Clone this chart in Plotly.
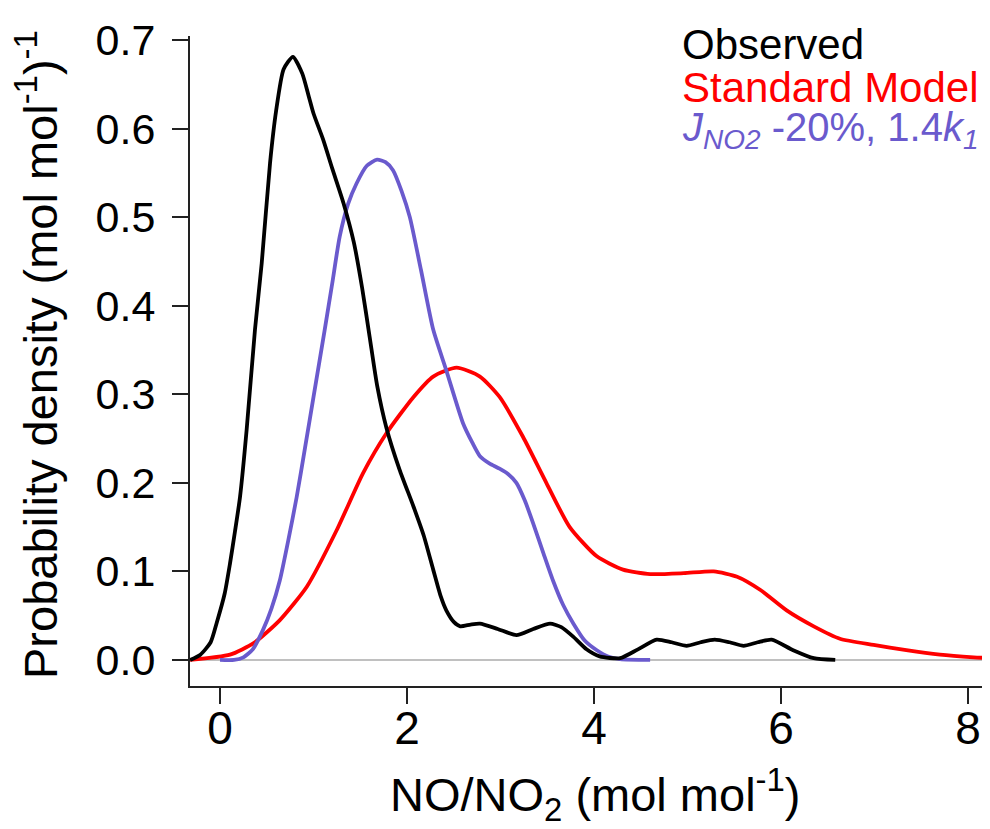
import plotly.graph_objects as go

# Observed
obs_x = [-0.32, -0.21, -0.1, -0.035, 0.05, 0.107, 0.16, 0.214, 0.285, 0.374, 0.446, 0.535, 0.6, 0.68,
         0.78, 0.88, 0.95, 1.0, 1.105, 1.2, 1.32, 1.43, 1.52, 1.6, 1.68, 1.78, 1.92, 2.07, 2.18, 2.28, 2.36,
         2.42, 2.5, 2.57, 2.68, 2.78, 2.97, 3.17, 3.35, 3.53, 3.65, 3.78, 3.92, 4.06, 4.28, 4.47, 4.67, 4.83,
         4.99, 5.14, 5.29, 5.45, 5.6, 5.75, 5.9, 6.13, 6.35, 6.58]
obs_y = [0.0, 0.006, 0.02, 0.042, 0.075, 0.109, 0.145, 0.184, 0.26, 0.373, 0.448, 0.561, 0.62, 0.667,
         0.681, 0.662, 0.636, 0.617, 0.587, 0.555, 0.516, 0.472, 0.42, 0.365, 0.31, 0.262, 0.215, 0.173, 0.14, 0.102, 0.072,
         0.056, 0.043, 0.038, 0.04, 0.041, 0.035, 0.028, 0.035, 0.041, 0.037, 0.026, 0.012, 0.004, 0.002, 0.012, 0.023, 0.02,
         0.016, 0.02, 0.023, 0.02, 0.016, 0.02, 0.023, 0.011, 0.002, 0.0]

# Standard Model
std_x = [-0.32, 0.107, 0.36, 0.64, 0.93, 1.25, 1.53, 1.78, 2.07, 2.28, 2.53, 2.78, 2.99, 3.24, 3.49, 3.74,
         4.03, 4.31, 4.6, 4.96, 5.28, 5.53, 5.78, 6.06, 6.35, 6.63, 6.99, 7.34, 7.7, 8.06, 8.24]
std_y = [0.0, 0.006, 0.019, 0.045, 0.083, 0.147, 0.211, 0.256, 0.297, 0.32, 0.33, 0.32, 0.297, 0.252, 0.2, 0.15,
         0.117, 0.102, 0.097, 0.098, 0.1, 0.094, 0.079, 0.056, 0.038, 0.024, 0.017, 0.011, 0.006, 0.003, 0.002]

# J_NO2 -20%, 1.4 k1
mod_x = [0.0, 0.15, 0.25, 0.35, 0.46, 0.55, 0.64, 0.73, 0.82, 0.91, 1.0, 1.12, 1.2, 1.28, 1.37, 1.46, 1.57,
         1.68, 1.77, 1.85, 1.94, 2.03, 2.15, 2.28, 2.42, 2.6, 2.7, 2.78, 2.88, 2.99, 3.08, 3.17, 3.26, 3.35,
         3.46, 3.56, 3.67, 3.78, 3.9, 4.03, 4.15, 4.28, 4.6]
mod_y = [0.0, 0.0, 0.003, 0.012, 0.034, 0.058, 0.09, 0.135, 0.184, 0.24, 0.297, 0.373, 0.425, 0.478, 0.515, 0.538, 0.558,
         0.565, 0.562, 0.553, 0.53, 0.5, 0.44, 0.373, 0.327, 0.267, 0.245, 0.23, 0.222, 0.216, 0.21, 0.2, 0.18, 0.154,
         0.12, 0.09, 0.062, 0.041, 0.022, 0.011, 0.004, 0.001, 0.0]

x_ticks = [0, 2, 4, 6, 8]
y_ticks = [0.0, 0.1, 0.2, 0.3, 0.4, 0.5, 0.6, 0.7]

FONT = "Liberation Sans, Arial, sans-serif"
PURPLE = "#6a5acd"
LW = 3.8

fig = go.Figure()
fig.add_trace(go.Scatter(x=[-0.4, 8.4], y=[0, 0], mode="lines",
                         line=dict(color="#c0c0c0", width=2), hoverinfo="skip", showlegend=False))
fig.add_trace(go.Scatter(x=std_x, y=std_y, mode="lines", name="Standard Model",
                         line=dict(color="#ff0000", width=LW, shape="spline", smoothing=0.6)))
fig.add_trace(go.Scatter(x=mod_x, y=mod_y, mode="lines", name="J_NO2 -20%, 1.4k1",
                         line=dict(color=PURPLE, width=LW, shape="spline", smoothing=0.6)))
fig.add_trace(go.Scatter(x=obs_x, y=obs_y, mode="lines", name="Observed",
                         line=dict(color="#000000", width=LW, shape="spline", smoothing=0.6)))

# page has an 8px body margin: plot area left edge lands at 190, top at 36
L, T = 182, 28
legend_items = [
    ("Observed", "#000000", 0.0, 42),
    ("Standard Model", "#ff0000", 1.0, 42),
    ("<i>J</i><sub><i>NO2</i></sub> -20%, 1.4<i>k</i><sub><i>1</i></sub>", PURPLE, 2.0, 40),
]
for text, col, i, fs in legend_items:
    fig.add_annotation(text=text, xref="paper", yref="paper", x=(680 - 190) / 800,
                       y=1 - (44 + 43 * i - 36) / 650, xanchor="left", yanchor="middle",
                       height=42, valign="middle",
                       showarrow=False, font=dict(family=FONT, size=fs, color=col))

# axis titles
fig.add_annotation(text="NO/NO<sub>2</sub> (mol mol<sup>-1</sup>)", xref="paper", yref="paper",
                   x=(595 - 190) / 800, y=1 - (795 - 36) / 650, xanchor="center", yanchor="middle",
                   showarrow=False, font=dict(family=FONT, size=47, color="#000000"))
fig.add_annotation(text="Probability density (mol mol<sup>-1</sup>)<sup>-1</sup>", xref="paper", yref="paper",
                   x=(37 - 190) / 800, y=1 - (355 - 36) / 650, xanchor="center", yanchor="middle",
                   textangle=-90, showarrow=False, font=dict(family=FONT, size=47, color="#000000"))

fig.update_layout(
    width=982, height=821,
    margin=dict(l=L, r=0, t=T, b=821 - 650 - T, autoexpand=False),
    paper_bgcolor="white", plot_bgcolor="white",
    showlegend=False,
    font=dict(family=FONT, color="#000000"),
    xaxis=dict(range=[-0.321, 8.235], tickvals=x_ticks, ticktext=[str(v) for v in x_ticks],
               automargin=False,
               showgrid=False, zeroline=False, showline=True, linecolor="#222222", linewidth=2,
               ticks="outside", ticklen=16, tickwidth=2, tickcolor="#222222",
               tickfont=dict(size=46, family=FONT), ticklabelstandoff=-15),
    yaxis=dict(range=[-0.0294, 0.7045], tickvals=y_ticks, ticktext=[f"{v:.1f}" for v in y_ticks],
               automargin=False,
               showgrid=False, zeroline=False, showline=True, linecolor="#222222", linewidth=2,
               ticks="outside", ticklen=16, tickwidth=2, tickcolor="#222222",
               tickfont=dict(size=43, family=FONT), ticklabelstandoff=8),
)

fig.write_html("out.html")
